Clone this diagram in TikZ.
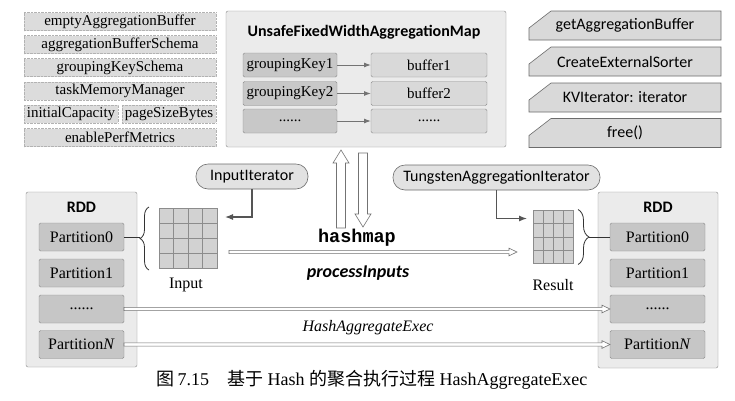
\documentclass[tikz,border=0pt]{standalone}
\usepackage{fontspec}
\setmainfont{Liberation Serif}
\setsansfont{Carlito}
\setmonofont{Liberation Mono}
\newfontfamily\cjkfont{Noto Sans CJK SC}
\usetikzlibrary{calc,decorations.pathreplacing,arrows.meta,backgrounds}
\definecolor{boxfill}{HTML}{DCDCDC}
\definecolor{keyfill}{HTML}{C8C8C8}
\definecolor{buffill}{HTML}{D9D9D9}
\definecolor{outerfill}{HTML}{EBEBEB}
\definecolor{edgec}{HTML}{8C8C8C}
\definecolor{arrowc}{HTML}{555555}
\definecolor{gridfill}{HTML}{D2D2D2}
\definecolor{pillfill}{HTML}{E2E2E2}
\definecolor{partfill}{HTML}{C6C6C6}
\newcommand\serifT{\fontsize{15}{18}\selectfont}
\newcommand\serifP{\fontsize{16}{19}\selectfont}
\newcommand\sansT{\sffamily\fontsize{16}{19}\selectfont}
\newcommand\hollowarrow[2]{%
  \draw[hollow] ($(#1)+(0,-1.6)$) -- ($(#2)+(-8,-1.6)$) -- ($(#2)+(-8,-3.8)$) -- (#2)
    -- ($(#2)+(-8,3.8)$) -- ($(#2)+(-8,1.6)$) -- ($(#1)+(0,1.6)$) -- cycle;}
\begin{document}
\begin{tikzpicture}[x=1pt,y=-1pt,
  every node/.style={inner sep=0pt, outer sep=0pt},
  parbox/.style={draw=gray!60, densely dotted, fill=boxfill, minimum width=192pt, minimum height=18pt, font=\serifT},
  keybox/.style={draw=edgec, fill=keyfill, rounded corners=1.5pt, minimum width=94pt, minimum height=24pt, font=\serifT},
  bufbox/.style={draw=edgec, fill=buffill, rounded corners=1.5pt, minimum width=116pt, minimum height=24pt, font=\serifT},
  cham/.style={minimum width=192pt, minimum height=29pt, font=\sansT},
  chamshape/.style={draw=gray!85!black, fill=buffill, line width=0.6pt},
  pill/.style={draw=gray!85!black, fill=pillfill, rounded corners=12pt, minimum height=25pt, font=\sansT, line width=0.6pt},
  maparr/.style={draw=gray!90!black, line width=1pt, -{Latex[length=7pt,width=5pt]}},
  arr/.style={draw=arrowc, line width=1.1pt, -{Latex[length=8pt,width=6pt]}},
  hollow/.style={draw=gray!90!black, fill=white, line width=0.6pt},
  rddbox/.style={draw=edgec, fill=outerfill, rounded corners=2pt},
  part/.style={draw=edgec, fill=partfill, rounded corners=1.5pt, minimum height=28pt, font=\serifP},
  gridbox/.style={draw=gray!90, fill=gridfill, line width=0.6pt},
  gridline/.style={draw=gray!90, line width=0.6pt},
  bracec/.style={draw=black!80, line width=0.8pt, decorate}]

\begin{pgfonlayer}{background}
\fill[white] (0,0) rectangle (735,400);
\end{pgfonlayer}
\useasboundingbox (0,0) rectangle (735,400);

% parameter boxes
\node[parbox] (eab) at (120,21.5) {emptyAggregationBuffer};
\node[parbox] (abs) at (120,44.5) {aggregationBufferSchema};
\node[parbox] (gks) at (120,67.5) {groupingKeySchema};
\node[parbox] (tmm) at (120,91) {taskMemoryManager};
\node[parbox, minimum width=94pt] (ic) at (71,114) {initialCapacity};
\node[parbox, minimum width=94pt] (psb) at (169,114) {pageSizeBytes};
\node[parbox] (epm) at (120,137.5) {enablePerfMetrics};

% aggregation map
\node[draw=edgec, fill=outerfill, rounded corners=2pt, minimum width=280pt, minimum height=136pt] (map) at (366,79) {};
\node[font=\sansT\bfseries] (maptitle) at (364,32) {UnsafeFixedWidthAggregationMap};
\node[keybox] (k1) at (290,65) {groupingKey1};
\node[keybox] (k2) at (290,93.5) {groupingKey2};
\node[keybox] (k3) at (290,121) {......};
\node[bufbox] (b1) at (429,65) {buffer1};
\node[bufbox] (b2) at (429,93.5) {buffer2};
\node[bufbox] (b3) at (429,121) {......};
\draw[maparr] (k1) -- (b1);
\draw[maparr] (k2) -- (b2);
\draw[maparr] (k3) -- (b3);

% method boxes
\node[cham] (g1) at (625,25.5) {getAggregationBuffer};
\node[cham] (g2) at (625,61.5) {CreateExternalSorter};
\node[cham] (g3) at (625,97.5) {KVIterator: iterator};
\node[cham] (g4) at (625,133) {free()};
\begin{pgfonlayer}{background}
\foreach \n in {g1,g2,g3,g4}{
  \draw[chamshape] ([xshift=22pt]\n.north west) -- (\n.north east) -- (\n.south east)
    -- (\n.south west) -- ([yshift=-17pt]\n.north west) -- cycle;
}
\end{pgfonlayer}

% up / down block arrows
\coordinate (upB) at ($(map.south)+(-25,81)$);
\coordinate (upT) at ($(map.south)+(-25,3)$);
\draw[hollow] ($(upB)+(-4.5,0)$) -- ($(upT)+(-4.5,13)$) -- ($(upT)+(-8,13)$) -- (upT)
  -- ($(upT)+(8,13)$) -- ($(upT)+(4.5,13)$) -- ($(upB)+(4.5,0)$) -- cycle;
\coordinate (dnT) at ($(map.south)+(-3,6)$);
\coordinate (dnB) at ($(map.south)+(-3,80)$);
\draw[hollow] ($(dnT)+(-4.5,0)$) -- ($(dnB)+(-4.5,-13)$) -- ($(dnB)+(-8,-13)$) -- (dnB)
  -- ($(dnB)+(8,-13)$) -- ($(dnB)+(4.5,-13)$) -- ($(dnT)+(4.5,0)$) -- cycle;

% iterators
\node[pill, minimum width=112pt] (ii) at (252,176.5) {InputIterator};
\node[pill, minimum width=207pt] (ti) at (496.5,177.5) {TungstenAggregationIterator};

% RDD left
\node[rddbox, minimum width=111pt, minimum height=175pt] (lrdd) at (81.5,279.5) {};
\node[font=\sansT\bfseries] (lrddt) at (81.5,207) {RDD};
\node[part, minimum width=85pt] (lp0) at (81.5,237) {Partition0};
\node[part, minimum width=85pt] (lp1) at (81.5,273) {Partition1};
\node[part, minimum width=85pt] (ld) at (81.5,309) {......};
\node[part, minimum width=85pt] (lpn) at (81.5,344.5) {Partition\textit{N}};

% RDD right
\node[rddbox, minimum width=120pt, minimum height=176pt] (rrdd) at (658,280) {};
\node[font=\sansT\bfseries] (rrddt) at (658,207) {RDD};
\node[part, minimum width=95pt] (rp0) at (657.5,237) {Partition0};
\node[part, minimum width=95pt] (rp1) at (657.5,273) {Partition1};
\node[part, minimum width=95pt] (rd) at (657.5,309) {......};
\node[part, minimum width=95pt] (rpn) at (657.5,344.5) {Partition\textit{N}};

% grids
\node[gridbox, minimum width=58pt, minimum height=60pt] (ingrid) at (188,238) {};
\node[gridbox, minimum width=40pt, minimum height=53pt] (rgrid) at (553,237) {};
\foreach \g in {ingrid,rgrid}{
  \foreach \i in {1,2,3}{
    \draw[gridline] ($(\g.north west)!\i/4!(\g.north east)$) -- ($(\g.south west)!\i/4!(\g.south east)$);
    \draw[gridline] ($(\g.north west)!\i/4!(\g.south west)$) -- ($(\g.north east)!\i/4!(\g.south east)$);
  }
}
\node[font=\fontsize{16}{19}\selectfont] (inlbl) at (186,285) {Input};
\node[font=\fontsize{16}{19}\selectfont] (rlbl) at (553,285) {Result};

% braces
\draw[bracec, decoration={brace, amplitude=9pt}] ($(ingrid.south west)+(-10,2)$) -- ($(ingrid.north west)+(-10,-1)$);
\coordinate (itip) at ($(ingrid.west)+(-19,0)$);
\draw[black!80, line width=0.8pt] (lp0.east) -- (lp0.east -| itip);
\draw[bracec, decoration={brace, amplitude=11pt}] ($(rgrid.north east)+(5,-1)$) -- ($(rgrid.south east)+(5,1)$);
\coordinate (rtip) at ($(rgrid.east)+(16,0)$);
\draw[black!80, line width=0.8pt] (rp0.west) -- (rp0.west -| rtip);

% iterator arrows
\draw[arr] (ii.south) |- ($(ingrid.north east)+(8,9)$);
\draw[arr] (ti.south) |- ($(rgrid.north west)+(-6,8)$);

% hashmap / processInputs
\node[font=\ttfamily\bfseries\fontsize{18.5}{20}\selectfont] (hm) at (357,238) {hashmap};
\coordinate (pa1) at ($(ingrid.east)+(12,14)$);
\coordinate (pa2) at ($(pa1 -| rgrid.west)+(-16,0)$);
\hollowarrow{pa1}{pa2}
\node[font=\sffamily\bfseries\itshape\fontsize{18}{20}\selectfont] (pi) at (358,273) {processInputs};

% long arrows
\hollowarrow{ld.east}{rd.west}
\hollowarrow{lpn.east}{rpn.west}
\node[font=\itshape\fontsize{16}{19}\selectfont] (hae) at (368,328) {HashAggregateExec};

% caption
\node[font=\fontsize{18}{21}\selectfont] (cap) at (372,380) {{\cjkfont 图}\,7.15\quad{\cjkfont 基于} Hash {\cjkfont 的聚合执行过程} HashAggregateExec};
\end{tikzpicture}
\end{document}
